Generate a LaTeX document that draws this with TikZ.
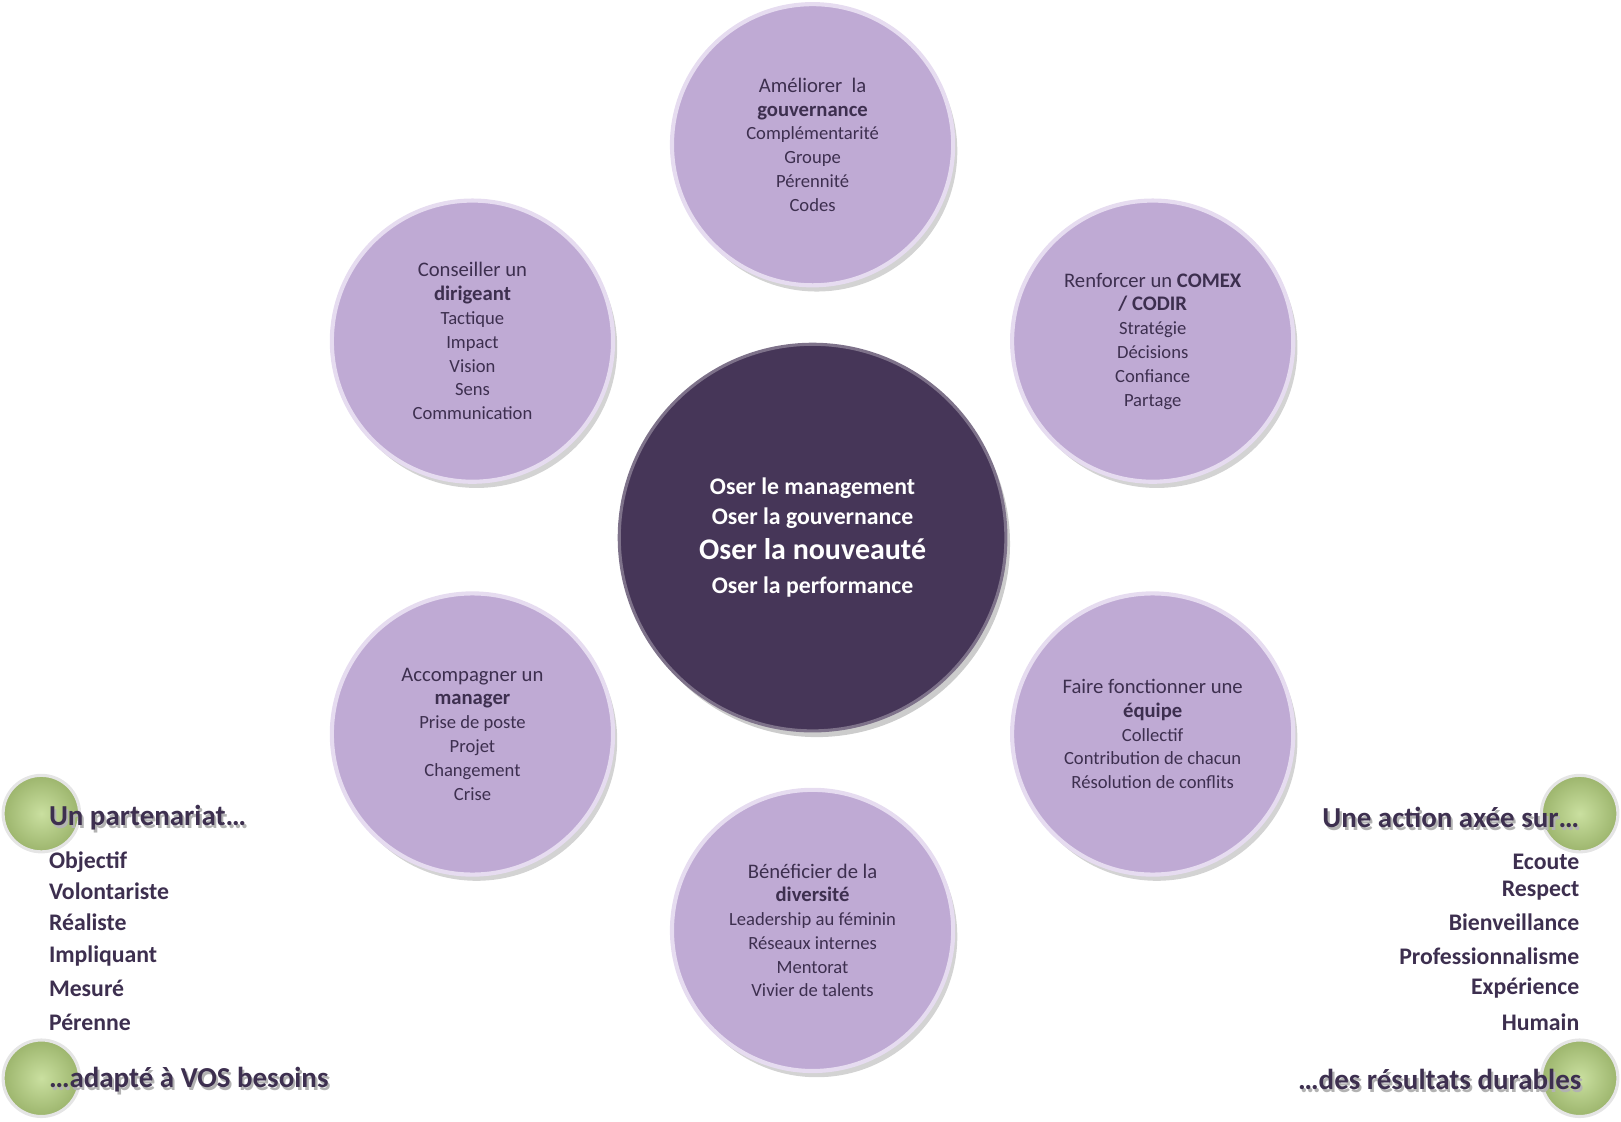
\documentclass[tikz,border=0pt]{standalone}
\usepackage{fontspec}
\setmainfont{Carlito}
\usetikzlibrary{shadows}
\definecolor{lilac}{HTML}{BFAAD4}
\definecolor{lilacrim}{HTML}{E6DCF0}
\definecolor{plum}{HTML}{463658}
\definecolor{ink}{HTML}{3D2F4F}
\definecolor{lime}{HTML}{B8D580}
\tikzset{
  petal/.style={circle, minimum size=136pt, inner sep=0pt, fill=lilac, draw=lilacrim, line width=2pt,
    drop shadow={shadow xshift=2pt, shadow yshift=-3pt, opacity=0.35},
    text=ink, align=center, font=\fontsize{10}{11.5}\selectfont},
  hub/.style={circle, minimum size=187pt, inner sep=0pt, fill=plum, draw=plum!70, line width=1.5pt,
    drop shadow={shadow xshift=2pt, shadow yshift=-3pt, opacity=0.4},
    text=white, align=center, font=\bfseries\fontsize{11.5}{14.5}\selectfont},
  ball/.style={circle, minimum size=37pt, inner sep=0pt, inner color=lime!75!white, outer color=lime!85!black, draw=white!80!gray, line width=1.5pt},
  head/.style={inner sep=0pt, text=ink, font=\bfseries\fontsize{14}{16}\selectfont},
  item/.style={inner sep=0pt, text=ink, font=\bfseries\fontsize{11.5}{13}\selectfont}
}
\newcommand{\subl}[1]{{\fontsize{9}{11}\selectfont #1}}
\begin{document}
\begin{tikzpicture}[x=0.5pt, y=-0.5pt]
\useasboundingbox (0,0) rectangle (1568,1085);
% Central circle
\node[hub] (core) at (786,520) {Oser le management\\Oser la gouvernance\\[2pt]
  {\fontsize{14.5}{17}\selectfont Oser la nouveauté}\\[2pt]Oser la performance};
% Surrounding circles
\node[petal] (gouv) at (786,140) {Améliorer~ la\\\textbf{gouvernance}\\
  \subl{Complémentarité}\\\subl{Groupe}\\\subl{Pérennité}\\\subl{Codes}};
\node[petal] (dirig) at (457,330) {Conseiller un\\\textbf{dirigeant}\\
  \subl{Tactique}\\\subl{Impact}\\\subl{Vision}\\\subl{Sens}\\\subl{Communication}};
\node[petal] (comex) at (1115,330) {Renforcer un \textbf{COMEX}\\\textbf{/ CODIR}\\
  \subl{Stratégie}\\\subl{Décisions}\\\subl{Confiance}\\\subl{Partage}};
\node[petal] (manag) at (457,710) {Accompagner un\\\textbf{manager}\\
  \subl{Prise de poste}\\\subl{Projet}\\\subl{Changement}\\\subl{Crise}};
\node[petal] (equip) at (1115,710) {Faire fonctionner une\\\textbf{équipe}\\
  \subl{Collectif}\\\subl{Contribution de chacun}\\\subl{Résolution de conflits}};
\node[petal] (divers) at (786,900) {Bénéficier de la\\\textbf{diversité}\\
  \subl{Leadership au féminin}\\\subl{Réseaux internes}\\\subl{Mentorat}\\\subl{Vivier de talents}};
% Green balls
\node[ball] (ballA) at (40,787) {};
\node[ball] (ballB) at (40,1043) {};
\node[ball] (ballC) at (1528,787) {};
\node[ball] (ballD) at (1528,1043) {};
% Left column
\node[head, anchor=west, text=gray!60] at (49,794) {Un partenariat…};
\node[head, anchor=west] (partner) at (47,791) {Un partenariat…};
\foreach \txt/\yy in {Objectif/834, Volontariste/862, Réaliste/892, Impliquant/925, Mesuré/956, Pérenne/989}
  \node[item, anchor=west] at (47,\yy) {\txt};
\node[head, anchor=west, text=gray!60] at (49,1047) {…adapté à VOS besoins};
\node[head, anchor=west] (needs) at (47,1044) {…adapté à VOS besoins};
% Right column
\node[head, anchor=east, text=gray!60] at (1530,794) {Une action axée sur…};
\node[head, anchor=east] (action) at (1528,791) {Une action axée sur…};
\foreach \txt/\yy in {Ecoute/834, Respect/862, Bienveillance/892, Professionnalisme/925, Expérience/956, Humain/989}
  \node[item, anchor=east] at (1528,\yy) {\txt};
\node[head, anchor=east, text=gray!60] at (1532,1047) {…des résultats durables};
\node[head, anchor=east] (results) at (1530,1044) {…des résultats durables};
\end{tikzpicture}
\end{document}
